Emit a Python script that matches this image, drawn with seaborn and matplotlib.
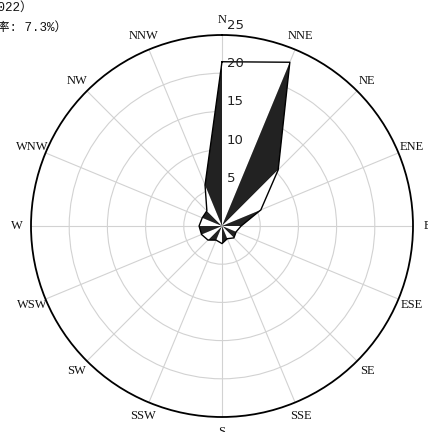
import numpy as np
import matplotlib
matplotlib.use("Agg")
import matplotlib.pyplot as plt
import matplotlib.transforms as mtransforms
import pandas as pd
import seaborn as sns

# 16-point wind direction frequencies (%)
directions = ["N", "NNE", "NE", "ENE", "E", "ESE", "SE", "SSE",
              "S", "SSW", "SW", "WSW", "W", "WNW", "NW", "NNW"]
frequency = [21.5, 23.2, 10.4, 5.5, 2.5, 2.0, 2.2, 1.8,
             2.3, 2.0, 2.6, 2.9, 3.0, 2.8, 2.8, 5.8]
radial_ticks = [5, 10, 15, 20, 25]
title_lines = ["风向玫瑰图（2022）", "（静风频率: 7.3%）"]

sns.set_theme(style="white")
plt.rcParams["font.family"] = ["DejaVu Sans", "Noto Sans CJK SC"]

W, H = 428, 432
fig = plt.figure(figsize=(W / 100, H / 100), dpi=100)
ax = fig.add_axes([31 / W, 15 / H, 382 / W, 382 / H], projection="polar")
ax.set_theta_zero_location("N")
ax.set_theta_direction(-1)

theta = np.deg2rad(np.arange(len(directions)) * 22.5)
df = pd.DataFrame({"direction": directions, "theta": theta, "freq": frequency})

# alternating dark / white triangles between neighbouring directions
for i in range(len(df)):
    j = (i + 1) % len(df)
    tj = df.theta[j] if j else 2 * np.pi
    color = "#222222" if i % 2 == 1 else "white"
    ax.fill([0, df.theta[i], tj], [0, df.freq[i], df.freq[j]],
            facecolor=color, edgecolor="none", zorder=3)

# closed outline of the frequency polygon
closed = pd.concat([df, df.iloc[[0]].assign(theta=2 * np.pi)], ignore_index=True)
sns.lineplot(data=closed, x="theta", y="freq", sort=False, estimator=None,
             color="black", lw=1.0, ax=ax, zorder=4)
ax.set_xlabel("")
ax.set_ylabel("")

ax.set_ylim(0, 25)
ax.set_xticks(theta)
ax.set_xticklabels([])
ax.set_yticks(radial_ticks[:-1])
ax.set_yticklabels([])
ax.grid(True, color="#d2d2d2", lw=0.8)
ax.set_axisbelow(True)
ax.spines["polar"].set_color("black")
ax.spines["polar"].set_linewidth(1.3)

# compass labels
for t, name in zip(theta, directions):
    ax.text(t, 26.9, name, ha="center", va="center", fontsize=9,
            family="Liberation Serif", color="#111111", clip_on=False)

# radial scale labels along the north axis
off = mtransforms.offset_copy(ax.transData, fig=fig, x=5, y=3, units="dots")
for r in radial_ticks:
    ax.text(0, r, str(r), transform=off, ha="left", va="bottom",
            fontsize=9.5, color="#222222", zorder=5, clip_on=False)

title_font = ["Liberation Mono", "Noto Sans CJK SC"]
fig.text(33 / W, 1 - 8 / H, title_lines[0], ha="right", va="center",
         fontsize=9, family=title_font, color="#111111")
fig.text(67 / W, 1 - 28 / H, title_lines[1], ha="right", va="center",
         fontsize=9, family=title_font, color="#111111")

fig.savefig("out.png", dpi=100, facecolor="white")
